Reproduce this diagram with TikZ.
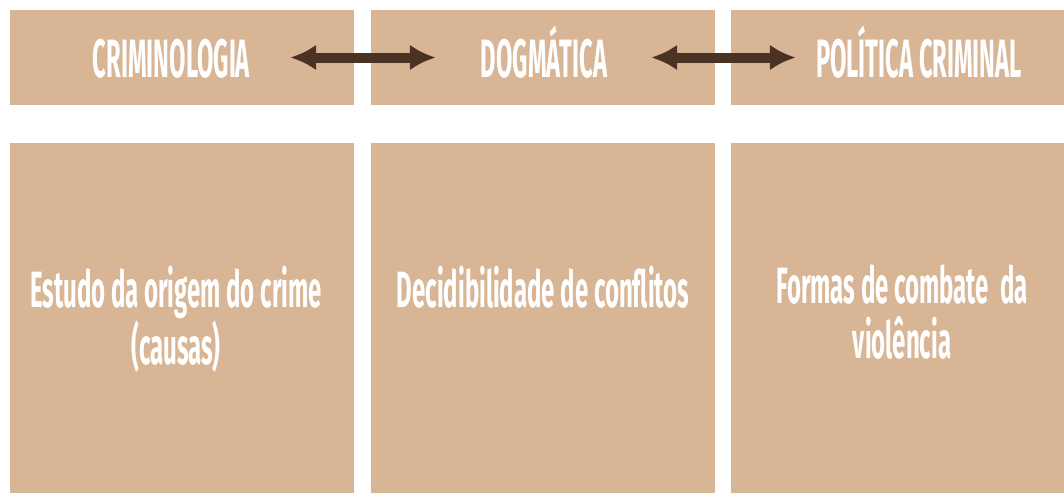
\documentclass[tikz,border=0pt]{standalone}
\usepackage{fontspec}
\newfontfamily\agency[FakeStretch=0.44]{Fira Sans}
\newfontfamily\agencytext[FakeStretch=0.47]{Fira Sans}
\usetikzlibrary{arrows.meta}
\definecolor{sand}{HTML}{D8B594}
\definecolor{darkbrown}{HTML}{4A3322}
\tikzstyle{topbox}=[rectangle,fill=sand,minimum width=344pt,minimum height=95pt,inner sep=0pt]
\tikzstyle{lowbox}=[rectangle,fill=sand,minimum width=344pt,minimum height=350pt,inner sep=0pt]
\tikzstyle{title}=[text=white,inner sep=0pt,anchor=base,font=\agency\bfseries\fontsize{54}{54}\selectfont]
\tikzstyle{caption}=[text=white,inner sep=0pt,anchor=base,align=center,font=\agencytext\bfseries\fontsize{51}{55}\selectfont]
\tikzstyle{edge}=[draw,line width=10pt,darkbrown,{Latex[length=26pt,width=26pt]}-{Latex[length=26pt,width=26pt]},shorten <=-64pt,shorten >=-65pt]

\begin{document}
\begin{tikzpicture}[x=1pt,y=-1pt]
    \useasboundingbox (0,0) rectangle (1064,493);

    % boxes
    \foreach \x/\name in {182/crim, 543/dogm, 903/polit}
    {
        \node[topbox] (\name) at (\x,57.5) {};
        \node[lowbox] (\name low) at (\x,318) {};
    }

    % titles
    \foreach \x/\name/\text in {171.5/crimtitle/CRIMINOLOGIA, 544/dogmtitle/DOGMÁTICA, 919/polittitle/POLÍTICA CRIMINAL}
        \node[title] (\name) at (\x,77) {\text};

    % arrows
    \foreach \source/\dest in {crim/dogm, dogm/polit}
        \path[edge] (\source.east) -- (\dest.west);

    % texts
    \node[caption] (crimtext) at (176,364) {Estudo da origem do crime\\(causas)};
    \node[caption] (dogmtext) at (543,307) {Decidibilidade de conflitos};
    \node[caption] (polittext) at (902,358) {Formas de combate~ da\\violência};
\end{tikzpicture}
\end{document}
